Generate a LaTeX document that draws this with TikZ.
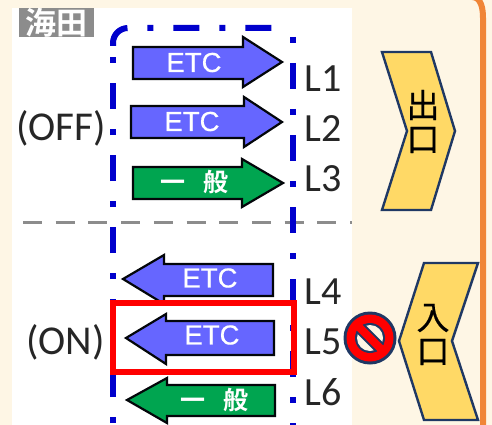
\documentclass[tikz,border=0pt]{standalone}
\usepackage{fontspec}
\setmainfont{Carlito}
\newfontfamily\etcfont[FakeBold=0.4]{Liberation Sans}
\newfontfamily\cjkb{Noto Sans CJK JP Bold}
\newfontfamily\cjkm[FakeBold=0.5]{Noto Sans CJK JP}
\definecolor{creambg}{HTML}{FEF6E5}
\definecolor{etcblue}{HTML}{6666FF}
\definecolor{lanegreen}{HTML}{00A550}
\definecolor{laneblue}{HTML}{0000CC}
\definecolor{chevfill}{HTML}{FFD966}
\definecolor{navy}{HTML}{1F3864}
\definecolor{orangeline}{HTML}{F08537}
\definecolor{graytag}{HTML}{8C8C8C}
\tikzset{
  lanearrow/.style={draw=black!90!navy,line width=2.2pt,line join=miter},
  etcarrow/.style={lanearrow,fill=etcblue},
  genarrow/.style={lanearrow,fill=lanegreen},
  dashdot/.style={draw=laneblue,line width=6pt,dash pattern=on 26pt off 20pt on 6pt off 20pt},
  dotdash/.style={draw=laneblue,line width=6pt,dash pattern=on 6pt off 20pt on 26pt off 20pt},
  chevron/.style={draw=navy,fill=chevfill,line width=2.4pt,line join=miter},
  etclabel/.style={text=white,font=\etcfont\fontsize{27.5}{27.5}\selectfont,inner sep=0pt},
  genlabel/.style={text=white,font=\cjkb\fontsize{25}{25}\selectfont,inner sep=0pt},
  lanelabel/.style={text=black!85,font=\fontsize{40}{40}\selectfont,inner sep=0pt,anchor=west},
  statelabel/.style={text=black!85,font=\fontsize{41}{41}\selectfont,inner sep=0pt},
  cjklabel/.style={text=black,font=\cjkm\fontsize{33}{33}\selectfont,inner sep=0pt},
}
\begin{document}
\begin{tikzpicture}[x=1pt,y=-1pt]
\useasboundingbox (0,0) rectangle (492,425);
\clip (0,0) rectangle (492,425);
\fill[creambg] (0,0) rectangle (492,425);
\fill[white] (12,8) rectangle (352,425);
% tag
\fill[graytag] (19,8) rectangle (94,37);
\node[inner sep=0pt,text=white,font=\cjkb\fontsize{31}{31}\selectfont] (tag) at (56.5,23) {海田};
% divider
\draw[graytag,line width=3pt,dash pattern=on 19pt off 13.7pt] (23,222) -- (352,222);
% lane frame
\draw[dotdash] (113,423) -- (113,57);
\draw[dashdot] (113,46) -- (113,43) arc[start angle=180,end angle=90,radius=15pt] -- (274,28);
\draw[dotdash] (292.5,37) -- (292.5,425);
% right-pointing arrows
\draw[etcarrow] (133,47) -- (243,47) -- (243,37) -- (282,62) -- (243,87) -- (243,79) -- (133,79) -- cycle;
\draw[etcarrow] (131,106) -- (244,106) -- (244,97) -- (282,122) -- (244,147) -- (244,138) -- (131,138) -- cycle;
\draw[genarrow] (133,167) -- (242,167) -- (242,159) -- (283,183) -- (242,207) -- (242,199) -- (133,199) -- cycle;
% left-pointing arrows
\draw[etcarrow] (273,264) -- (164,264) -- (164,255) -- (123,279) -- (164,304) -- (164,296) -- (273,296) -- cycle;
\draw[etcarrow] (274,321) -- (166,321) -- (166,314) -- (126,338) -- (166,364) -- (166,355) -- (274,355) -- cycle;
\draw[genarrow] (275,385) -- (167,385) -- (167,378) -- (127,400) -- (167,423) -- (167,416) -- (275,416) -- cycle;
% highlight
\draw[red,line width=6pt] (113,303) rectangle (294,372);
% arrow labels
\node[etclabel] (e1) at (194,62.5) {ETC};
\node[etclabel] (e2) at (192,121.5) {ETC};
\node[etclabel] (e4) at (210,278) {ETC};
\node[etclabel] (e5) at (212,335) {ETC};
\node[genlabel] (g3) at (194,182) {一\hspace{18pt}般};
\node[genlabel] (g6) at (214,399.5) {一\hspace{18pt}般};
% lane labels
\node[lanelabel] (l1) at (304,78.5) {L1};
\node[lanelabel] (l2) at (304,129) {L2};
\node[lanelabel] (l3) at (304,179) {L3};
\node[lanelabel] (l4) at (304,292) {L4};
\node[lanelabel] (l5) at (304,342) {L5};
\node[lanelabel] (l6) at (304,392) {L6};
\node[statelabel] (off) at (61,128) {(OFF)};
\node[statelabel] (on) at (65.5,342) {(ON)};
% exit and entrance chevrons
\draw[chevron] (382,52) -- (431,52) -- (455,131) -- (431,210) -- (382,210) -- (407,131) -- cycle;
\node[cjklabel] (ex1) at (423,105) {出};
\node[cjklabel] (ex2) at (423,140) {口};
\draw[chevron] (424,263) -- (478,263) -- (452,341) -- (478,420) -- (424,420) -- (399,341) -- cycle;
\node[cjklabel] (in1) at (433,318) {入};
\node[cjklabel] (in2) at (433,352) {口};
% no-entry sign
\fill[navy] (370,338) circle[radius=26.5pt];
\fill[red] (370,338) circle[radius=23.5pt];
\fill[navy] (370,338) circle[radius=15pt];
\fill[creambg] (370,338) circle[radius=13pt];
\begin{scope}
\clip (370,338) circle[radius=15pt];
\begin{scope}[shift={(370,338)},rotate=-45]
\fill[navy] (-16,-6) rectangle (16,6);
\end{scope}
\end{scope}
\begin{scope}[shift={(370,338)},rotate=-45]
\fill[red] (-18,-4) rectangle (18,4);
\end{scope}
% orange frame
\draw[orangeline,line width=6pt] (472,-3) to[out=0,in=90] (483,18) -- (483,425);
\end{tikzpicture}
\end{document}
